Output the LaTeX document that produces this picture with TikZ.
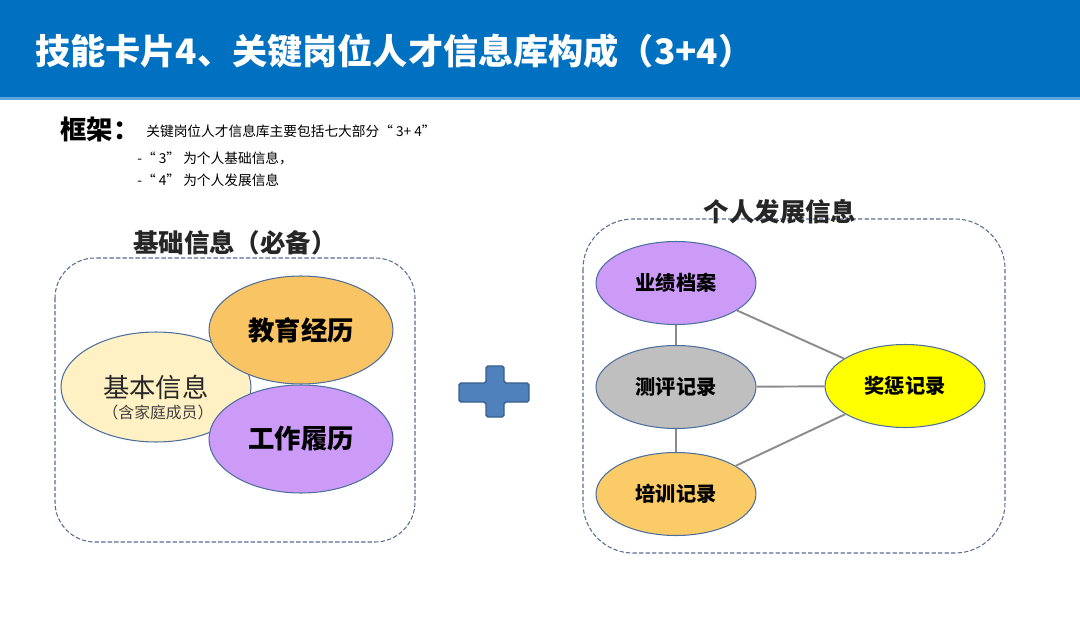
\documentclass[tikz,border=0pt]{standalone}
\usepackage{fontspec}
\setmainfont{Noto Sans CJK SC}
\usetikzlibrary{shapes.geometric}

\definecolor{barblue}{HTML}{0070C0}
\definecolor{barlight}{HTML}{5DA5DD}
\definecolor{framegray}{HTML}{5A6C92}
\definecolor{ovalline}{HTML}{4E6F9E}
\definecolor{basecream}{HTML}{FFF1C3}
\definecolor{eduorange}{HTML}{F9C463}
\definecolor{workpurple}{HTML}{CC9BF7}
\definecolor{evalgray}{HTML}{BFBFBF}
\definecolor{trainorange}{HTML}{FBCB67}
\definecolor{rewardyellow}{HTML}{FFFF00}
\definecolor{linkgray}{HTML}{8C8C8C}
\definecolor{plusblue}{HTML}{4F81BD}
\definecolor{plusline}{HTML}{385D8A}

\tikzset{
  frame/.style={draw=framegray, dash pattern=on 2.5pt off 1.2pt, line width=0.6pt},
  oval/.style={ellipse, draw=ovalline, line width=0.6pt, inner sep=0pt},
  bigoval/.style={oval, minimum width=3.68cm, minimum height=2.16cm,
    font=\bfseries\fontsize{15}{18}\selectfont},
  smalloval/.style={oval, minimum width=3.2cm, minimum height=1.66cm,
    font=\bfseries\fontsize{11.5}{14}\selectfont},
  link/.style={draw=linkgray, line width=1.1pt},
  boxtitle/.style={font=\bfseries\fontsize{14.5}{17}\selectfont, text=black!85},
  note/.style={anchor=west, font=\fontsize{7.8}{9}\selectfont, inner sep=0pt}
}

\begin{document}
\begin{tikzpicture}[x=0.02cm,y=-0.02cm]
\useasboundingbox (0,0) rectangle (1080,632);

% 标题栏
\fill[barblue] (0,0) rectangle (1080,97);
\fill[barlight] (0,97) rectangle (1080,100);
\node[anchor=west, text=white, inner sep=0pt, font=\bfseries\fontsize{20}{24}\selectfont] (title) at (35,51) {技能卡片4、关键岗位人才信息库构成（3+4）};

% 框架说明
\node[anchor=west, inner sep=0pt, font=\bfseries\fontsize{15}{18}\selectfont] (framework) at (60,129) {框架：};
\node[note] (noteA) at (146,131) {关键岗位人才信息库主要包括七大部分“ 3+ 4”};
\node[note] (noteB) at (137,158) {-“ 3” 为个人基础信息，};
\node[note] (noteC) at (137,180) {-“ 4” 为个人发展信息};

% 基础信息
\draw[frame, rounded corners=0.8cm] (55,258) rectangle (415,542);
\node[boxtitle] (basictitle) at (235,243) {基础信息（必备）};
\node[oval, fill=basecream, minimum width=3.8cm, minimum height=2.2cm] (basic) at (156,387) {};
\node[font=\fontsize{15}{18}\selectfont, text=black!85] (basictext) at (156,387) {基本信息};
\node[font=\fontsize{9}{11}\selectfont, text=black!75] (basicsub) at (158,412) {（含家庭成员）};
\node[bigoval, fill=eduorange] (edu) at (301,330) {教育经历};
\node[bigoval, fill=workpurple] (work) at (301,439) {工作履历};

% 加号
\draw[plusline, fill=plusblue, line width=0.8pt, rounded corners=1pt]
  (459,383) -- (486,383) -- (486,366) -- (504,366) -- (504,383) -- (529,383)
  -- (529,402) -- (504,402) -- (504,417) -- (486,417) -- (486,402) -- (459,402) -- cycle;

% 个人发展信息
\draw[frame, rounded corners=1cm] (583,219) rectangle (1005,553);
\node[boxtitle] (devtitle) at (780,212) {个人发展信息};
\node[smalloval, fill=workpurple] (perf) at (676,283) {业绩档案};
\node[smalloval, fill=evalgray] (eval) at (676,387) {测评记录};
\node[smalloval, fill=trainorange] (train) at (676,494) {培训记录};
\node[smalloval, fill=rewardyellow] (reward) at (905,386) {奖惩记录};

% 连线
\draw[link] (perf) -- (eval);
\draw[link] (eval) -- (train);
\draw[link] (eval) -- (reward);
\draw[link] (perf) -- (reward);
\draw[link] (train) -- (reward);
\end{tikzpicture}
\end{document}
